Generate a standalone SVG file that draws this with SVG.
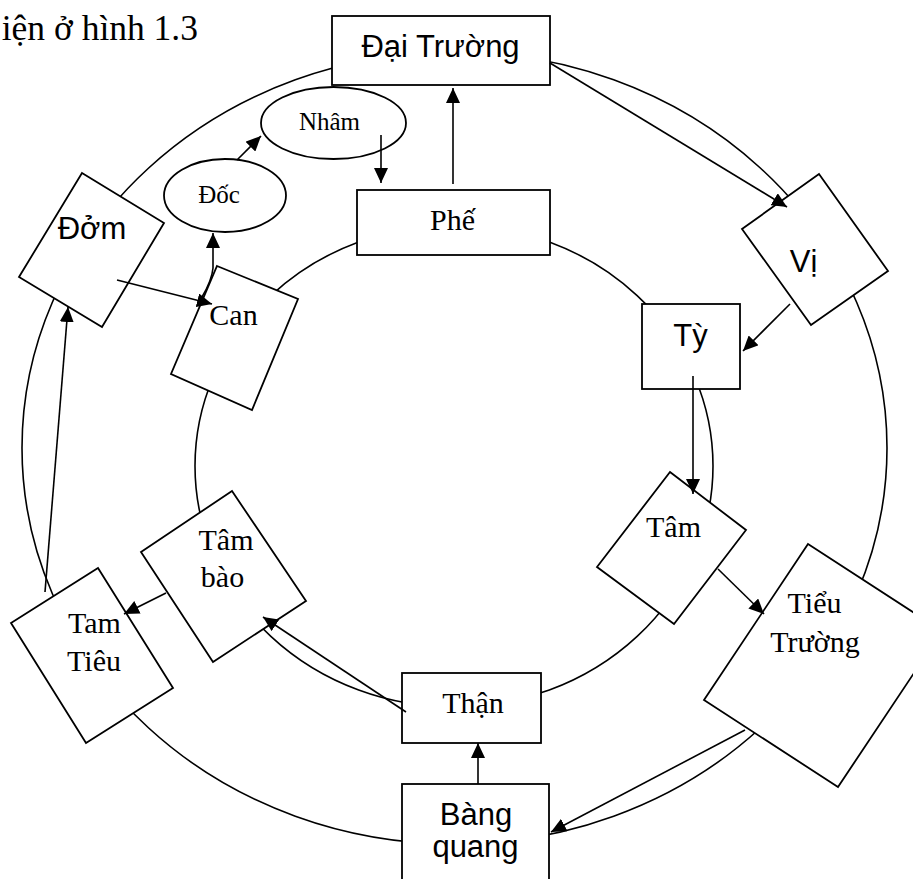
<svg xmlns="http://www.w3.org/2000/svg" width="913" height="879" viewBox="0 0 913 879">
<style>
.ring{fill:none;stroke:#000;stroke-width:1.6}
.box{fill:#fff;stroke:#000;stroke-width:1.8}
.ser{font-family:"Liberation Serif","Times New Roman",serif;font-size:30px;fill:#000;text-anchor:middle}
.san{font-family:"Liberation Sans",Arial,sans-serif;font-size:31px;fill:#000;text-anchor:middle}
.sm{font-size:25px}
.con{fill:none;stroke:#000;stroke-width:1.6;marker-end:url(#ah)}
</style>
<defs>
<marker id="ah" markerUnits="userSpaceOnUse" markerWidth="15" markerHeight="14" refX="15" refY="7" orient="auto">
<path d="M0,0 L15,7 L0,14 z" fill="#000"/>
</marker>
</defs>
<rect width="913" height="879" fill="#fff"/>
<text x="198" y="40" font-family="Liberation Serif,serif" font-size="35.5" text-anchor="end">iện ở hình 1.3</text>
<g id="rings">
<ellipse class="ring" cx="454.5" cy="448" rx="432.5" ry="396"/>
<ellipse class="ring" cx="454" cy="466" rx="259" ry="241"/>
</g>
<g id="dai-truong"><rect class="box" x="332" y="16" width="218" height="69"/><text class="san" x="440.5" y="57" font-size="32">Đại Trường</text></g>
<g id="phe"><rect class="box" x="357" y="190" width="193" height="65"/><text class="ser" x="452.5" y="230" font-size="31">Phế</text></g>
<g id="nham"><ellipse class="box" cx="333.5" cy="123" rx="72.5" ry="36"/><text class="ser sm" x="329.5" y="130">Nhâm</text></g>
<g id="doc"><ellipse class="box" cx="225" cy="195.5" rx="61" ry="36.5"/><text class="ser sm" x="219" y="203">Đốc</text></g>
<g id="dom"><polygon class="box" points="82,173 164,223 102,327 19,277"/><text class="san" x="92" y="239">Đởm</text></g>
<g id="can"><polygon class="box" points="217,266 298,299 252,410 171,374"/><text class="ser" x="233.5" y="325">Can</text></g>
<g id="vi"><polygon class="box" points="819,174 888,271 811,325 742,229"/><text class="san" x="803.5" y="272" font-size="30">Vị</text></g>
<g id="ty"><rect class="box" x="642" y="304" width="98" height="85"/><text class="san" x="690.5" y="346">Tỳ</text></g>
<g id="tam"><polygon class="box" points="670,472 746,530 674,624 597,567"/><text class="ser" x="673.5" y="537">Tâm</text></g>
<g id="tieu-truong"><polygon class="box" points="808,544 942,631 838,787 704,700"/><text class="ser" x="814.5" y="613">Tiểu</text><text class="ser" x="815" y="652">Trường</text></g>
<g id="tam-tieu"><polygon class="box" points="98,568 173,688 86,743 11,623"/><text class="ser" x="94.5" y="633">Tam</text><text class="ser" x="94" y="671">Tiêu</text></g>
<g id="tam-bao"><polygon class="box" points="232,491 306,601 213,662 141,552"/><text class="ser" x="226" y="550">Tâm</text><text class="ser" x="222.5" y="587">bào</text></g>
<g id="than"><rect class="box" x="402" y="673" width="139" height="70"/><text class="ser" x="473" y="713">Thận</text></g>
<g id="bang-quang"><rect class="box" x="402" y="784" width="147" height="110"/><text class="san" x="476" y="825">Bàng</text><text class="san" x="475.5" y="857">quang</text></g>
<g id="connectors">
<path class="con" d="M453,184 L453,88"/>
<path class="con" d="M381,135 L381,183"/>
<path class="con" d="M237,160 L261,136"/>
<path class="con" d="M202,297 Q212,280 213,268 L213,233"/>
<path class="con" d="M117,280 L212,304"/>
<path class="con" d="M45,592 L68,307"/>
<path class="con" d="M166,593 L124,614"/>
<path class="con" d="M406,712 L263,617"/>
<path class="con" d="M478,784 L478,743"/>
<path class="con" d="M745,730 L551,832"/>
<path class="con" d="M718,569 L764,614"/>
<path class="con" d="M693,376 L693,494"/>
<path class="con" d="M790,304 L743,351"/>
<path class="con" d="M550,63 L787,207"/>
</g>
</svg>
